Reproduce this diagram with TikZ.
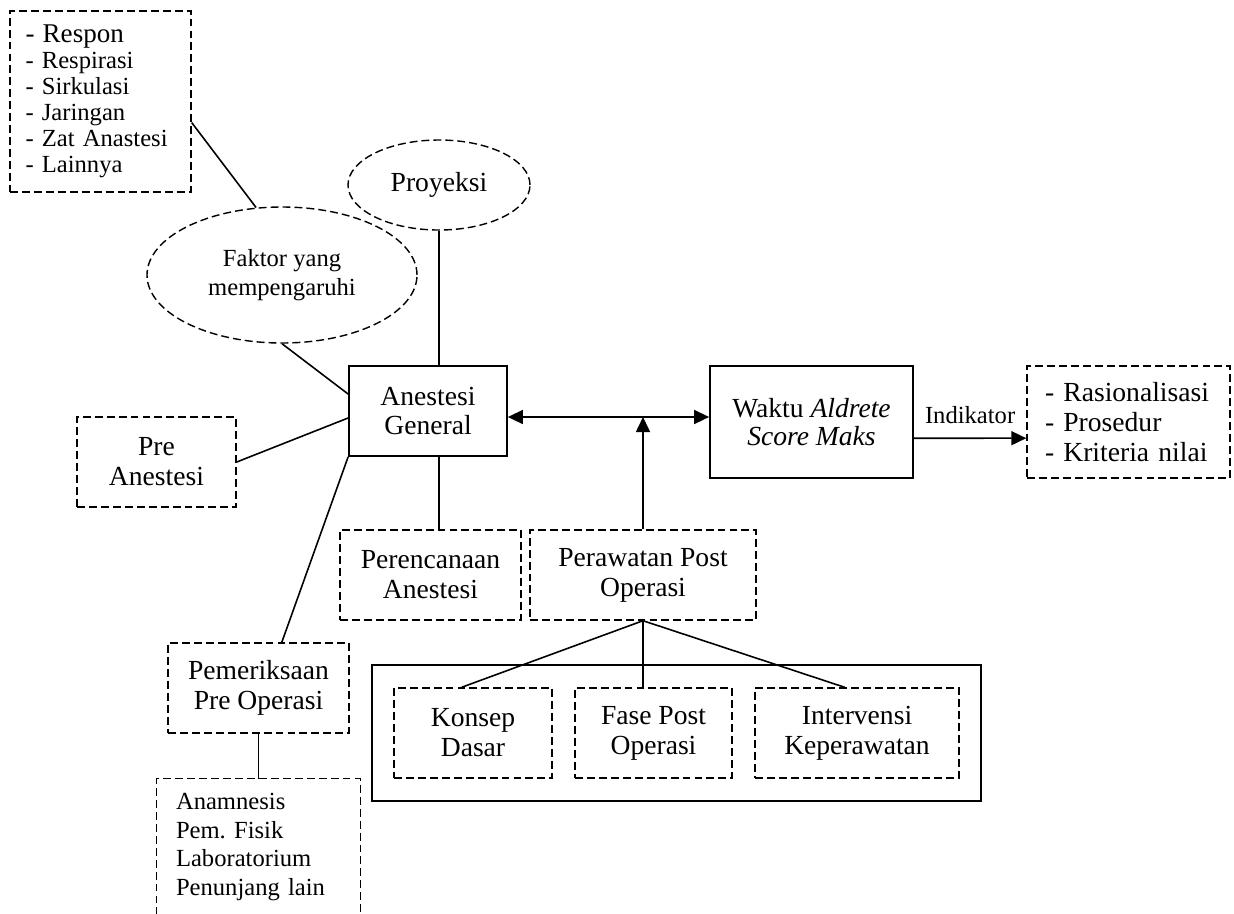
\documentclass[tikz,border=0pt]{standalone}
\usepackage{fontspec}
\setmainfont{Liberation Serif}
\frenchspacing
\usetikzlibrary{shapes,arrows.meta}
\tikzstyle{dashline}=[dash pattern=on 4.5pt off 2.3pt, line width=0.8pt]
\tikzstyle{dashblock}=[rectangle, draw, dashline, align=center, minimum height=1.8cm]
\tikzstyle{solidblock}=[rectangle, draw, line width=1pt, align=center, minimum height=1.8cm]
\tikzstyle{dashoval}=[ellipse, draw, dashline, align=center]
\tikzstyle{link}=[line width=0.9pt]
\newcommand{\listfont}{\fontsize{14}{14.8}\selectfont}
\begin{document}
\begin{tikzpicture}[every node/.style = {font=\fontsize{15.7}{17}\selectfont}, >={Triangle[length=3mm,width=2.8mm]}]
\useasboundingbox (0,0) rectangle (24.68,-18.26);

\node[dashblock, minimum width=3.62cm, minimum height=3.62cm, align=left, text width=3.0cm, font=\listfont] (respon) at (2.01,-2.03) {{\fontsize{15.4}{14.8}\selectfont - Respon}\\- Respirasi\\- Sirkulasi\\- Jaringan\\- Zat Anastesi\\- Lainnya};
\node[dashoval, minimum width=5.4cm, minimum height=2.72cm, font=\fontsize{14}{16.4}\selectfont] (faktor) at (5.64,-5.5) {Faktor yang\\mempengaruhi};
\node[dashoval, minimum width=3.64cm, minimum height=1.8cm] (proy) at (8.78,-3.7) {Proyeksi};
\node[solidblock, minimum width=3.16cm] (gen) at (8.56,-8.22) {Anestesi\\General};
\node[dashblock, minimum width=3.18cm] (pre) at (3.13,-9.24) {Pre\\Anestesi};
\node[solidblock, minimum width=4.06cm, minimum height=2.24cm, font=\fontsize{15.7}{16}\selectfont] (waktu) at (16.23,-8.44) {Waktu \textit{Aldrete}\\\textit{Score Maks}};
\node[dashblock, minimum width=4.06cm, minimum height=2.24cm, align=left, text width=3.34cm] (kriteria) at (22.57,-8.44) {- Rasionalisasi\\- Prosedur\\- Kriteria nilai};
\node[dashblock, minimum width=3.62cm] (rencana) at (8.61,-11.5) {Perencanaan\\Anestesi};
\node[dashblock, minimum width=4.52cm] (rawat) at (12.86,-11.5) {Perawatan Post\\Operasi};
\node[dashblock, minimum width=3.62cm] (periksa) at (5.17,-13.76) {Pemeriksaan\\Pre Operasi};
\node[align=left, text width=3.3cm, minimum width=4.06cm, minimum height=2.72cm, font=\fontsize{14}{16.2}\selectfont] (anam) at (5.17,-16.94) {Anamnesis\\Pem. Fisik\\Laboratorium\\Penunjang lain};
\node[solidblock, minimum width=12.18cm, minimum height=2.72cm] (grup) at (13.53,-14.66) {};
\node[dashblock, minimum width=3.16cm] (konsep) at (9.46,-14.66) {Konsep\\Dasar};
\node[dashblock, minimum width=3.14cm] (fase) at (13.07,-14.66) {Fase Post\\Operasi};
\node[dashblock, minimum width=4.08cm] (interv) at (17.14,-14.66) {Intervensi\\Keperawatan};
\coordinate (temu) at (12.86,-8.34);

% garis ke Anestesi General
\draw[link] (respon.-13) -- (faktor.111);
\draw[link] (faktor.south) -- (gen.168);
\draw[link] (proy.south) -- (proy.south |- gen.north);
\draw[link] (pre.east) -- (gen.185);
\draw[link] (gen.south west) -- (periksa.63);
\draw[link] (gen.south -| proy.south) -- (proy.south |- rencana.north);
\draw[link,<->] (gen.east |- temu) -- (waktu.west |- temu);
\draw[link,->] (rawat.north) -- (temu);
\draw[link,->] (waktu.-9.5) -- node[above=0.16cm, font=\fontsize{14}{16}\selectfont] {Indikator} (kriteria.189.5);
% cabang perawatan
\draw[link] (rawat.south) -- (konsep.104);
\draw[link] (rawat.south) -- (rawat.south |- fase.north);
\draw[link] (rawat.south) -- (interv.105);
\draw[link] (periksa.south) -- (anam.north);
\draw[dashline] (anam.south west) -- (anam.north west) -- (anam.north east) -- (anam.south east);

\end{tikzpicture}
\end{document}
